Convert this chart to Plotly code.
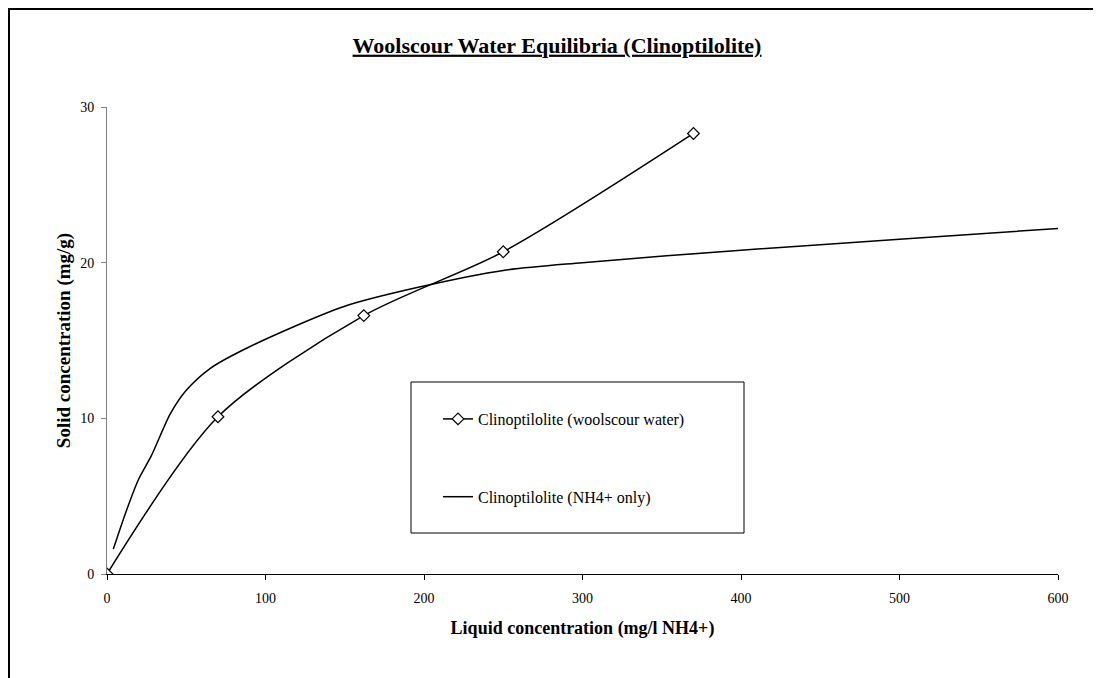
import plotly.graph_objects as go

# Data
wool_x = [0, 70, 162, 250, 370]
wool_y = [0, 10.1, 16.6, 20.7, 28.3]

nh4_x = [4, 12, 20, 28, 40, 50, 65, 90, 150, 200, 250, 300, 400, 500, 600]
nh4_y = [1.6, 4.0, 6.1, 7.6, 10.3, 11.8, 13.2, 14.6, 17.2, 18.5, 19.5, 20.0, 20.8, 21.5, 22.2]

x_ticks = [0, 100, 200, 300, 400, 500, 600]
y_ticks = [0, 10, 20, 30]

FONT = "Times New Roman, Liberation Serif, serif"

fig = go.Figure()
fig.add_trace(go.Scatter(
    x=wool_x, y=wool_y, mode="lines+markers",
    name="Clinoptilolite (woolscour water)", legendgroup="a",
    line=dict(color="black", width=1.5, shape="spline", smoothing=0.8),
    marker=dict(symbol="diamond", size=9, color="white", line=dict(color="black", width=1.2)),
))
fig.add_trace(go.Scatter(
    x=nh4_x, y=nh4_y, mode="lines",
    name="Clinoptilolite (NH4+ only)", legendgroup="b",
    line=dict(color="black", width=1.5, shape="spline", smoothing=0.8),
))

# page has an 8px body margin; work in page coords and convert
OFF = 8
W, H = 1093, 670
L, T = 107 - OFF, 107 - OFF
R = W - (1058 - OFF)
B = H - (574 - OFF)
pw, ph = W - L - R, H - T - B

def px(xp):
    return (xp - OFF - L) / pw

def py(yp):
    return (H - B - (yp - OFF)) / ph

fig.update_layout(
    width=W, height=H,
    margin=dict(l=L, r=R, t=T, b=B, autoexpand=False),
    paper_bgcolor="white", plot_bgcolor="white",
    font=dict(family=FONT, color="black", size=14),
    title=dict(
        text="<b><u>Woolscour Water Equilibria (Clinoptilolite)</u></b>",
        x=(557 - OFF) / W, xanchor="center", y=1 - (45 - OFF) / H, yanchor="middle",
        font=dict(family=FONT, size=22, color="black"),
    ),
    showlegend=True,
    legend=dict(
        x=px(438), xanchor="left", y=py(402), yanchor="top",
        bgcolor="rgba(0,0,0,0)", borderwidth=0,
        font=dict(family=FONT, size=16, color="black"),
        traceorder="grouped", tracegroupgap=54,
    ),
    xaxis=dict(
        range=[0, 600], tickvals=x_ticks, ticktext=[str(v) for v in x_ticks],
        showgrid=False, zeroline=False, showline=True, linecolor="black", linewidth=1,
        ticks="outside", ticklen=5, tickcolor="black", ticklabelstandoff=6,
        tickfont=dict(family=FONT, size=14),
        title=dict(text="<b>Liquid concentration (mg/l NH4+)</b>", font=dict(family=FONT, size=18), standoff=16),
    ),
    yaxis=dict(
        range=[0, 30], tickvals=y_ticks, ticktext=[str(v) for v in y_ticks],
        showgrid=False, zeroline=False, showline=True, linecolor="#808080", linewidth=1,
        ticks="outside", ticklen=5, tickcolor="#808080", ticklabelstandoff=4,
        tickfont=dict(family=FONT, size=14),
        title=dict(text="<b>Solid concentration (mg/g)</b>", font=dict(family=FONT, size=19), standoff=4),
    ),
    shapes=[
        dict(type="rect", xref="paper", yref="paper",
             x0=px(411), x1=px(744), y0=py(533), y1=py(382),
             line=dict(color="black", width=1), fillcolor="rgba(0,0,0,0)", layer="below"),
        dict(type="rect", xref="paper", yref="paper",
             x0=px(9), x1=px(1120), y0=py(700), y1=py(9),
             line=dict(color="black", width=2), fillcolor="rgba(0,0,0,0)"),
    ],
)

fig.write_html("out.html")
